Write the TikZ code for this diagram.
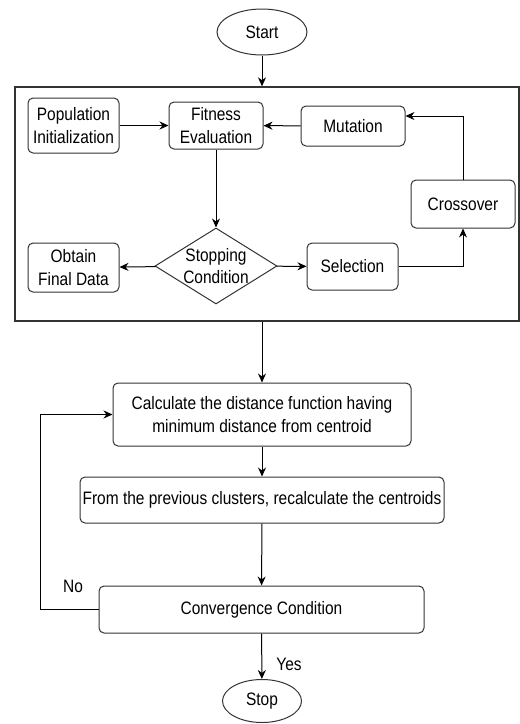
\documentclass[tikz,border=0pt]{standalone}
\usepackage{fontspec}
\setmainfont[FakeStretch=0.86]{Liberation Sans}
\usetikzlibrary{shapes.geometric,arrows.meta}
\begin{document}
\begin{tikzpicture}[x=1pt,y=-1pt,line width=1pt,
	every node/.style={font=\fontsize{18}{22.5}\selectfont,inner sep=1pt},
	blk/.style={draw=black!80,rounded corners=5pt,align=center},
	oval/.style={draw=black!80,ellipse},
	>={Stealth[length=9pt,width=8pt]}]
	\useasboundingbox (0,0) rectangle (520,724);
	\node[oval,minimum width=90,minimum height=46] (start) at (262,32) {Start};
	\node[draw=black!80,line width=1.3pt,minimum width=504,minimum height=234] (ga) at (267,204) {};
	\node[blk,minimum width=91,minimum height=55] (pop) at (73.5,125.5) {Population\\Initialization};
	\node[blk,minimum width=94,minimum height=47] (fit) at (216,125.5) {Fitness\\Evaluation};
	\node[blk,minimum width=104,minimum height=40] (mut) at (353,126) {Mutation};
	\node[blk,minimum width=104,minimum height=48] (cross) at (463,204) {Crossover};
	\node[blk,minimum width=91,minimum height=49] (obt) at (73.5,267.5) {Obtain\\Final Data};
	\node[draw=black!80,diamond,aspect=1.6,inner sep=0,minimum width=122,minimum height=76,
		label={[align=center]center:Stopping\\Condition}] (cond) at (216,266) {};
	\node[blk,minimum width=91,minimum height=47] (sel) at (352.5,266.5) {Selection};
	\node[blk,minimum width=298,minimum height=63] (calc) at (262,414.5) {Calculate the distance function having\\minimum distance from centroid};
	\node[blk,minimum width=364,minimum height=46] (recalc) at (262,500) {From the previous clusters, recalculate the centroids};
	\node[blk,minimum width=325,minimum height=47] (conv) at (261.5,609.5) {Convergence Condition};
	\node[oval,minimum width=79,minimum height=43] (stop) at (262,701) {Stop};
	\node (no) at (73,586) {No};
	\node (yes) at (289,664) {Yes};
	% arrows
	\draw[->] (start) -- (start |- ga.north);
	\draw[->] (pop) -- (fit);
	\draw[->] (mut) -- (fit);
	\draw[->] (fit) -- (cond);
	\draw[->] (cond) -- (obt);
	\draw[->] (cond) -- (sel);
	\draw[->] (sel) -| (cross);
	\draw[->] (cross) |- ([yshift=10pt]mut.east);
	\draw[->] (calc |- ga.south) -- (calc);
	\draw[->] (calc) -- (recalc);
	\draw[->] (recalc) -- (conv);
	\draw[->] (conv) -- (stop);
	\draw[->] (conv.west) -- ++(-58,0) |- (calc.west);
\end{tikzpicture}
\end{document}
